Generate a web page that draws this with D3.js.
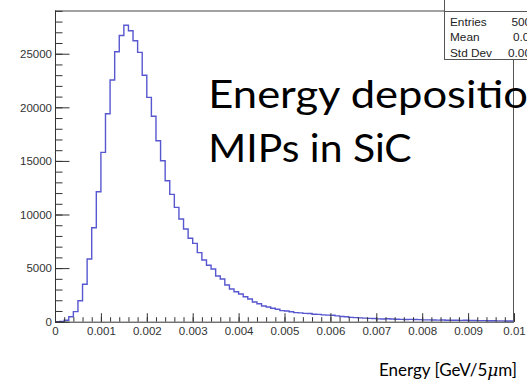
<!DOCTYPE html>
<html>
<head>
<meta charset="utf-8">
<script src="https://cdn.jsdelivr.net/npm/d3@7"></script>
<style>
  html, body { margin: 0; padding: 0; background: #fff; }
  svg { display: block; }
</style>
</head>
<body>
<svg id="chart" width="527" height="383"></svg>
<script>
// Energy deposited per 5 um of SiC by MIPs: 100 bins over 0 .. 0.01 GeV
const binLow = 0;
const binHigh = 0.01;
const counts = [
  0, 20, 130, 460, 940, 1950, 3490, 5850, 8770, 12130,
  15800, 19400, 22550, 25190, 26700, 27650, 27150, 26210, 25130, 22990,
  20930, 19160, 16880, 15020, 13150, 11880, 10670, 9580, 8650, 7780,
  7310, 6440, 5760, 5260, 4920, 4260, 3980, 3420, 3050, 2800,
  2580, 2330, 2120, 1840, 1680, 1460, 1370, 1250, 1160, 1030,
  1000, 930, 850, 820, 780, 760, 700, 680, 640, 610,
  600, 540, 480, 460, 400, 380, 360, 330, 310, 300,
  260, 250, 280, 250, 230, 220, 210, 220, 200, 190,
  170, 170, 160, 150, 160, 140, 130, 130, 120, 130,
  110, 110, 100, 100, 90, 90, 80, 80, 70, 60
];
const xTickValues = [0, 0.001, 0.002, 0.003, 0.004, 0.005, 0.006, 0.007, 0.008, 0.009, 0.01];
const xTickLabels = ["0", "0.001", "0.002", "0.003", "0.004", "0.005", "0.006", "0.007", "0.008", "0.009", "0.01"];
const yTickValues = [0, 5000, 10000, 15000, 20000, 25000];
const yTickLabels = ["0", "5000", "10000", "15000", "20000", "25000"];
const statNames = ["Entries", "Mean", "Std Dev"];
const statValues = ["500000", "0.00223", "0.001141"];
const titleLines = ["Energy deposition of", "MIPs in SiC"];

const svg = d3.select("#chart");
const frame = { left: 55, right: 514, top: 10.5, bottom: 321.7 };

const binWidth = (binHigh - binLow) / counts.length;
const x = d3.scaleLinear().domain([binLow, binHigh]).range([frame.left, frame.right]);
const y = d3.scaleLinear().domain([0, 1.05 * d3.max(counts)]).range([frame.bottom, frame.top]);

const axisColor = "#333";
const labelFont = "'Liberation Sans', Arial, Helvetica, sans-serif";

const plot = svg.append("g");

// frame: top and right edges
plot.append("line")
  .attr("x1", frame.left).attr("x2", frame.right)
  .attr("y1", frame.top + 0.5).attr("y2", frame.top + 0.5)
  .attr("stroke", "#444").attr("stroke-width", 1);
plot.append("line")
  .attr("x1", frame.right - 0.5).attr("x2", frame.right - 0.5)
  .attr("y1", frame.top).attr("y2", frame.bottom)
  .attr("stroke", "#555").attr("stroke-width", 1);

// histogram as a step outline
const pts = [[x(binLow), y(0)]];
counts.forEach((c, i) => {
  const x0 = x(binLow + i * binWidth), x1 = x(binLow + (i + 1) * binWidth);
  pts.push([x0, y(c)], [x1, y(c)]);
});
pts.push([x(binHigh), y(0)]);
plot.append("path")
  .attr("d", d3.line()(pts))
  .attr("fill", "none")
  .attr("stroke", "#5757d0")
  .attr("stroke-width", 1.4)
  .attr("stroke-linejoin", "miter");

// y axis, minor ticks every 1000
const yMinor = d3.range(0, y.domain()[1], 1000);
plot.append("g")
  .attr("transform", `translate(${frame.left},0)`)
  .call(d3.axisLeft(y).tickValues(yMinor).tickSizeInner(-7.5).tickSizeOuter(0).tickFormat(""))
  .call(g => g.select(".domain").remove())
  .call(g => g.selectAll("line").attr("stroke", axisColor));

plot.append("g")
  .attr("transform", `translate(${frame.left},0)`)
  .call(d3.axisLeft(y).tickValues(yTickValues).tickSizeInner(-14.5).tickSizeOuter(0)
    .tickPadding(3).tickFormat((d, i) => yTickLabels[i]))
  .call(g => g.select(".domain").attr("stroke", axisColor).attr("d", `M0.5,${frame.bottom}V${frame.top}`))
  .call(g => g.selectAll("line").attr("stroke", axisColor))
  .call(g => g.selectAll("text").attr("font-family", labelFont).attr("font-size", 11.5).attr("fill", "#333"));

// x axis, minor ticks every 0.0002
const xMinor = d3.range(0, 51).map(i => i * 0.0002);
plot.append("g")
  .attr("transform", `translate(0,${frame.bottom})`)
  .call(d3.axisBottom(x).tickValues(xMinor).tickSizeInner(-4.5).tickSizeOuter(0).tickFormat(""))
  .call(g => g.select(".domain").remove())
  .call(g => g.selectAll("line").attr("stroke", axisColor));

plot.append("g")
  .attr("transform", `translate(0,${frame.bottom})`)
  .call(d3.axisBottom(x).tickValues(xTickValues).tickSizeInner(-8.5).tickSizeOuter(0)
    .tickPadding(5).tickFormat((d, i) => xTickLabels[i]))
  .call(g => g.select(".domain").attr("stroke", axisColor).attr("d", `M${frame.left},0.5H${frame.right}`))
  .call(g => g.selectAll("line").attr("stroke", axisColor))
  .call(g => g.selectAll("text").attr("font-family", labelFont).attr("font-size", 11.5).attr("fill", "#333"));

// statistics box in the top right corner
const stats = svg.append("g");
stats.append("rect")
  .attr("x", 444.5).attr("y", -30).attr("width", 120).attr("height", 89.5)
  .attr("fill", "#fff").attr("stroke", "#555").attr("stroke-width", 1);
stats.append("line")
  .attr("x1", 444.5).attr("x2", 527).attr("y1", 11.5).attr("y2", 11.5)
  .attr("stroke", "#555");
const statBase = [26, 41, 56.5];
stats.selectAll("text.name").data(statNames).join("text")
  .attr("class", "name")
  .attr("x", 450).attr("y", (d, i) => statBase[i])
  .attr("font-family", labelFont).attr("font-size", 11.8).attr("fill", "#222")
  .text(d => d);
const statX = [511.5, 513, 508];
stats.selectAll("text.value").data(statValues).join("text")
  .attr("class", "value")
  .attr("x", (d, i) => statX[i]).attr("y", (d, i) => statBase[i])
  .attr("font-family", labelFont).attr("font-size", 11.8).attr("fill", "#222")
  .text(d => d);

// re-draw the right frame edge below the box
svg.append("line")
  .attr("x1", frame.right - 0.5).attr("x2", frame.right - 0.5)
  .attr("y1", 59.5).attr("y2", frame.bottom)
  .attr("stroke", "#555").attr("stroke-width", 1);

// annotation text, each line stretched to its measured span
const noteFont = "Lato, 'Open Sans', sans-serif";
const note = svg.append("g");
const l1 = note.append("text").text(titleLines[0]);
const l2 = note.append("text").text(titleLines[1]);
[l1, l2].forEach(t => t.attr("font-family", noteFont).attr("font-size", 39).attr("fill", "#000"));
const sx1 = (528 - 208.3) / l1.node().getSubStringLength(0, 16);
const sx2 = 203.4 / l2.node().getComputedTextLength();
l1.attr("transform", `translate(208.3,107.7) scale(${sx1},1)`);
l2.attr("transform", `translate(208.3,161.7) scale(${sx2},1)`);

// x axis title
const xt = svg.append("text")
  .attr("font-family", noteFont).attr("font-size", 17).attr("fill", "#000")
  .attr("text-anchor", "end")
  .attr("transform", "translate(517,376)");
xt.append("tspan").text("Energy [GeV/5");
xt.append("tspan").attr("font-style", "italic").attr("font-family", "'DejaVu Serif', serif").text("μ");
xt.append("tspan").text("m]");
</script>
</body>
</html>
